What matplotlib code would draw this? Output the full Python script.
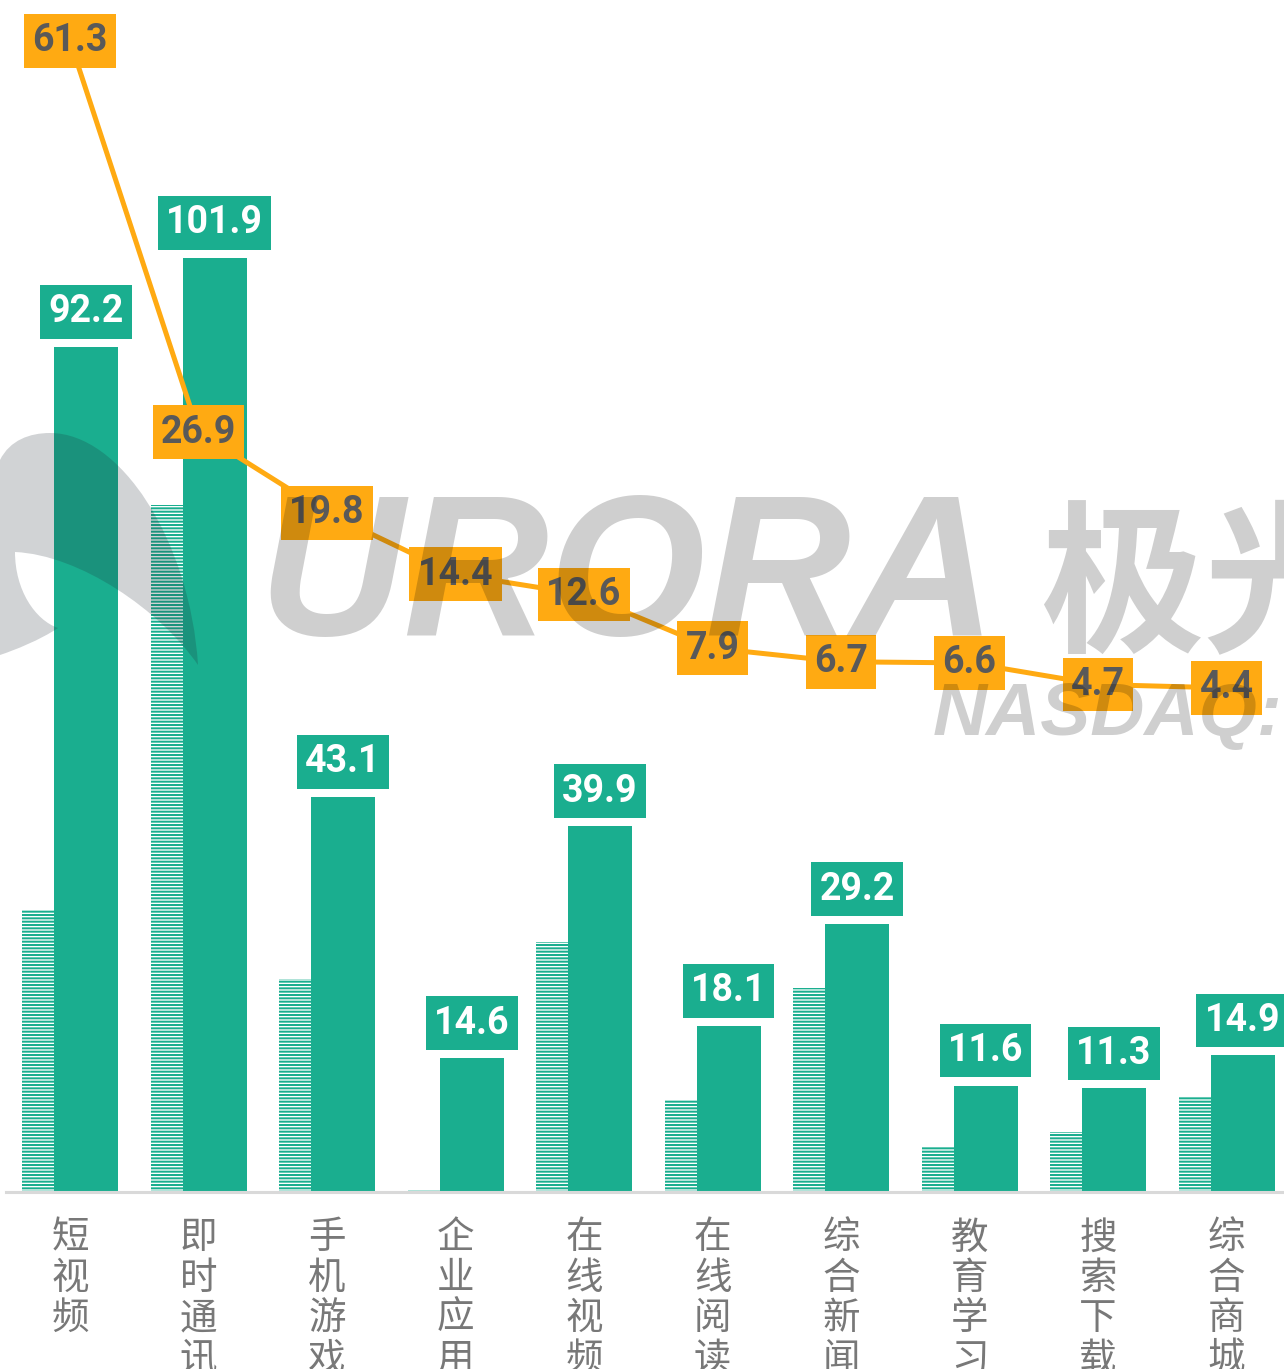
import matplotlib
matplotlib.use('Agg')
import matplotlib.pyplot as plt
import numpy as np
from matplotlib.path import Path
from matplotlib.patches import PathPatch
from matplotlib.transforms import Affine2D

# data
categories = ['短视频', '即时通讯', '手机游戏', '企业应用', '在线视频',
              '在线阅读', '综合新闻', '教育学习', '搜索下载', '综合商城']
current_vals = [92.2, 101.9, 43.1, 14.6, 39.9, 18.1, 29.2, 11.6, 11.3, 14.9]
previous_vals = [30.8, 75.0, 23.2, 0.2, 27.3, 10.0, 22.3, 4.9, 6.5, 10.5]
line_vals = [61.3, 26.9, 19.8, 14.4, 12.6, 7.9, 6.7, 6.6, 4.7, 4.4]

TEAL = '#1aae8f'
ORANGE = '#ffaa12'
DARK = '#595959'
GREY = '#787878'

W, H = 1284, 1369
plt.rcParams['hatch.linewidth'] = 1.45

fig = plt.figure(figsize=(W / 100, H / 100), dpi=100)
fig.patch.set_facecolor('white')

ax = fig.add_axes([6 / W, 1 - 1192 / H, 1278 / W, 1192 / H])
x = np.arange(len(categories))

# previous period (hatched) + current period (solid)
ax.bar(x - 0.249, previous_vals, width=0.249, facecolor='white',
       edgecolor=TEAL, hatch='-----', linewidth=0, zorder=1)
ax.bar(x + 0.1245, current_vals, width=0.498, color=TEAL, linewidth=0, zorder=1)

ax.set_xlim(-0.498, 9.447)
ax.set_ylim(0, 130.06)
for s in ['top', 'left', 'right']:
    ax.spines[s].set_visible(False)
ax.spines['bottom'].set_color('#d9d9d9')
ax.spines['bottom'].set_linewidth(2.2)
ax.set_xticks([])
ax.set_yticks([])

for xi, v in zip(x, current_vals):
    ax.annotate('%.1f' % v, xy=(xi + 0.1245, v), xytext=(0, 12),
                textcoords='offset points', ha='center', va='bottom',
                fontsize=27, fontweight='bold', family='Roboto', color='white',
                bbox=dict(boxstyle='square,pad=0.22', fc=TEAL, ec='none'),
                zorder=5, annotation_clip=False)

for xi, name in zip(x, categories):
    ax.annotate('\n'.join(name), xy=(xi, 0), xycoords=('data', 'axes fraction'),
                xytext=(0, -19), textcoords='offset points', ha='center', va='top',
                fontsize=27, family=['Noto Sans CJK SC', 'DejaVu Sans'],
                color=GREY, linespacing=1.05, annotation_clip=False)

# line on a second scale
ax2 = ax.twinx()
ax2.set_ylim(-39.93, 64.9)
ax2.set_axis_off()
ax2.plot(x, line_vals, color=ORANGE, linewidth=3.6, zorder=3)
for xi, v in zip(x, line_vals):
    ax2.text(xi, v, '%.1f' % v, ha='center', va='center', fontsize=27,
             fontweight='bold', family='Roboto', color=DARK,
             bbox=dict(boxstyle='square,pad=0.22', fc=ORANGE, ec='none'), zorder=6)

# watermark
px = Affine2D().scale(1 / W, -1 / H).translate(0, 1) + fig.transFigure
verts = [(0, 655), (0, 460),
         (10, 440), (30, 433), (50, 433),
         (120, 433), (190, 540), (198, 665),
         (160, 610), (80, 555), (15, 552),
         (15, 590), (35, 620), (58, 628),
         (40, 640), (15, 650), (0, 655), (0, 655)]
codes = [Path.MOVETO, Path.LINETO] + [Path.CURVE4] * 15 + [Path.CLOSEPOLY]
fig.add_artist(PathPatch(Path(verts, codes), transform=px, fc='#1a2530',
                         ec='none', alpha=0.2, zorder=20))
fig.text(258, 635, 'URORA', transform=px, fontsize=145, fontweight='bold',
         style='italic', family='Liberation Sans', color='black', alpha=0.19,
         ha='left', va='baseline', zorder=20)
fig.text(1040, 638, '极光', transform=px, fontsize=118, fontweight='bold',
         family=['Noto Sans CJK SC', 'DejaVu Sans'], color='black', alpha=0.19,
         ha='left', va='baseline', zorder=20)
fig.text(933, 735, 'NASDAQ:', transform=px, fontsize=54, fontweight='bold',
         style='italic', family='Liberation Sans', color='black', alpha=0.19,
         ha='left', va='baseline', zorder=20)

fig.savefig('out.png', dpi=100, facecolor='white')
